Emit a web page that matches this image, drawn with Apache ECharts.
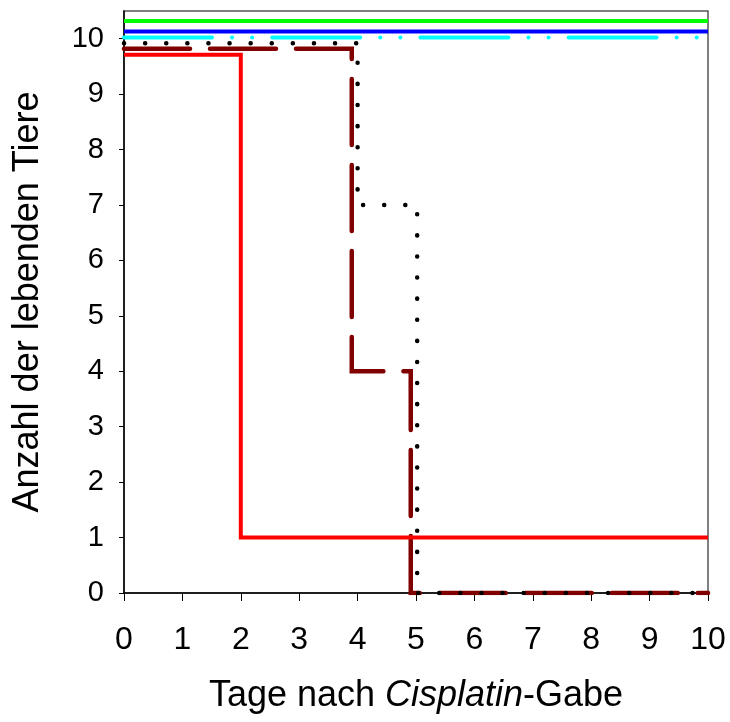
<!DOCTYPE html>
<html>
<head>
<meta charset="utf-8">
<script src="https://cdn.jsdelivr.net/npm/echarts@6/dist/echarts.min.js"></script>
<style>
  html, body { margin: 0; padding: 0; background: #fff; }
  #chart { width: 730px; height: 722px; }
</style>
</head>
<body>
<div id="chart"></div>
<script>
// tick labels
const xTicks = [0, 1, 2, 3, 4, 5, 6, 7, 8, 9, 10];
const yTicks = [0, 1, 2, 3, 4, 5, 6, 7, 8, 9, 10];

// survival curves (the 10-lines are drawn slightly offset in the original so they don't overlap)
const dayGreen = [0, 10];
const aliveGreen = [10.32, 10.32];
const dayBlue = [0, 10];
const aliveBlue = [10.13, 10.13];
const dayCyan = [0, 10];
const aliveCyan = [10.02, 10.02];
const dayBlack = [0, 4.0, 4.0, 5.02, 5.02, 10];
const aliveBlack = [9.92, 9.92, 7, 7, 0, 0];
const dayDarkRed = [0, 3.9, 3.9, 4.91, 4.91, 10];
const aliveDarkRed = [9.82, 9.82, 4, 4, 0, 0];
const dayRed = [0, 2, 2, 10];
const aliveRed = [9.71, 9.71, 1, 1];

function pts(xs, ys) {
    return xs.map(function (x, i) { return [x, ys[i]]; });
}
function curve(xs, ys, color, width, dash) {
    return {
        type: 'line',
        data: pts(xs, ys),
        symbol: 'none',
        silent: true,
        lineStyle: {
            color: color,
            width: width,
            type: dash || 'solid',
            cap: dash ? 'round' : 'butt',
            join: 'miter'
        }
    };
}

let chart = echarts.init(document.getElementById('chart'));
let option = {
    animation: false,
    backgroundColor: '#fff',
    textStyle: { fontFamily: 'Liberation Sans, Arial, sans-serif' },
    grid: {
        left: 124, right: 22, top: 11, bottom: 129,
        show: true, borderColor: '#555', borderWidth: 1.5
    },
    xAxis: {
        type: 'value',
        min: 0, max: 10, interval: 1,
        name: 'Tage nach {i|Cisplatin}-Gabe',
        nameLocation: 'middle',
        nameGap: 85,
        nameTextStyle: {
            fontSize: 36, color: '#000',
            rich: { i: { fontSize: 36, fontStyle: 'italic', color: '#000' } }
        },
        axisLine: { lineStyle: { color: '#000', width: 1.5 } },
        axisTick: { inside: false, length: 8, lineStyle: { color: '#000', width: 1 }, customValues: xTicks },
        axisLabel: { fontSize: 32, color: '#000', margin: 31, customValues: xTicks },
        splitLine: { show: false }
    },
    yAxis: {
        type: 'value',
        min: 0, max: 10.5,
        name: 'Anzahl der lebenden Tiere',
        nameLocation: 'middle',
        nameGap: 78,
        nameTextStyle: { fontSize: 36, color: '#000' },
        axisLine: { show: true, lineStyle: { color: '#000', width: 1.5 } },
        axisTick: { show: true, inside: false, length: 5, lineStyle: { color: '#000', width: 1 }, customValues: yTicks },
        axisLabel: { fontSize: 29, color: '#000', margin: 20, customValues: yTicks },
        splitLine: { show: false }
    },
    series: [
        curve(dayDarkRed, aliveDarkRed, '#800000', 4.5, [66, 20]),
        curve(dayBlack, aliveBlack, '#000', 4.5, [0.1, 21]),
        curve(dayRed, aliveRed, '#ff0000', 4),
        curve(dayCyan, aliveCyan, '#00ffff', 4, [88, 20, 0.1, 20, 0.1, 20]),
        curve(dayBlue, aliveBlue, '#0000ff', 4),
        curve(dayGreen, aliveGreen, '#00ff00', 4)
    ]
};
chart.setOption(option);
</script>
</body>
</html>
